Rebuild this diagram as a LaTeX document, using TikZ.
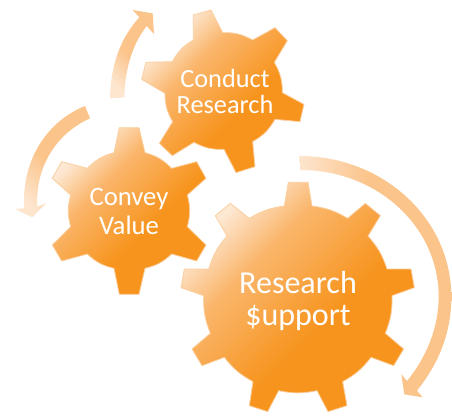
\documentclass[tikz,border=0pt]{standalone}
\usepackage{fontspec}
\setmainfont{Carlito}
\definecolor{gearpale}{HTML}{FDE8D3}
\definecolor{gearmid}{HTML}{FAB66C}
\definecolor{gearorange}{HTML}{F7941E}
\definecolor{gearedge}{HTML}{FBCF9F}
\definecolor{arrowpale}{HTML}{FDE5CE}
\definecolor{arrowdark}{HTML}{FBC48A}
\pgfdeclarehorizontalshading{gearshade}{100bp}{color(0bp)=(gearpale); color(26bp)=(gearpale); color(38bp)=(gearmid); color(58bp)=(gearorange); color(100bp)=(gearorange)}
\pgfdeclarehorizontalshading{arrowshade}{100bp}{color(0bp)=(arrowpale); color(25bp)=(arrowpale); color(48bp)=(arrowdark); color(100bp)=(arrowdark)}
\tikzset{
  gearbody/.style={shading=gearshade, shading angle=-45, draw=gearedge, line width=0.8pt, line join=miter},
  flowarrow/.style={shading=arrowshade, draw=none},
  gearlabel/.style={text=white, align=center, inner sep=0pt},
  zoomA/.style={shift={(100,0)},x=0.33333pt,y=-0.33333pt},
  zoomB/.style={shift={(0,100)},x=0.33333pt,y=-0.33333pt},
  zoomC/.style={shift={(172,150)},x=0.33333pt,y=-0.33333pt}
}
\begin{document}
\begin{tikzpicture}[x=1pt,y=-1pt]
\useasboundingbox (0,0) rectangle (452,415);
% flow arrows
\begin{scope}[zoomA]
\path[flowarrow, shading angle=45] (30,295) .. controls (32,190) and (65,110) .. (118,52) -- (98,30) -- (158,40) -- (162,102) -- (140,78) .. controls (100,130) and (75,200) .. (73,292) -- cycle;
\end{scope}
\begin{scope}[zoomB]
\path[flowarrow, shading angle=45] (255,18) .. controls (140,65) and (65,180) .. (72,325) -- (45,327) -- (97,352) -- (138,310) -- (112,320) .. controls (105,200) and (170,100) .. (270,55) -- cycle;
\end{scope}
\begin{scope}[zoomC]
\path[flowarrow, shading angle=0] (382,18) .. controls (634,18) and (838,207) .. (838,440) .. controls (838,550) and (800,640) .. (735,722) -- (752,742) -- (697,733) -- (688,673) -- (705,693) .. controls (765,620) and (800,530) .. (800,440) .. controls (800,230) and (616,60) .. (385,60) -- cycle;
\end{scope}
% gears
\begin{scope}[zoomA]
\path[gearbody] (280,45) -- (333,30) -- (368,98) to[bend left=15] (458,120) -- (525,83) -- (562,122) -- (523,187) to[bend left=15] (547,278) -- (612,313) -- (600,365) -- (525,358) to[bend left=15] (458,425) -- (465,500) -- (408,518) -- (372,448) to[bend left=15] (282,427) -- (217,467) -- (178,430) -- (218,365) to[bend left=15] (195,280) -- (125,238) -- (138,187) -- (217,185) to[bend left=15] (280,120) -- cycle;
\end{scope}
\begin{scope}[zoomB]
\path[gearbody] (358,83) -- (417,83) -- (435,158) to[bend left=15] (515,205) -- (590,185) -- (618,235) -- (562,285) to[bend left=15] (562,380) -- (618,435) -- (590,483) -- (515,462) to[bend left=15] (435,505) -- (417,583) -- (358,583) -- (342,505) to[bend left=15] (262,462) -- (185,483) -- (157,435) -- (212,380) to[bend left=15] (212,285) -- (157,235) -- (185,185) -- (262,205) to[bend left=15] (342,158) -- cycle;
\end{scope}
\begin{scope}[zoomC]
\path[gearbody] (349,97) -- (408,97) -- (420,168) to[bend left=11.5] (527,205) -- (580,160) -- (625,197) -- (588,258) to[bend left=11.5] (645,357) -- (717,357) -- (727,413) -- (660,437) to[bend left=11.5] (640,550) -- (695,597) -- (665,647) -- (597,622) to[bend left=11.5] (512,695) -- (525,767) -- (468,785) -- (435,722) to[bend left=11.5] (320,722) -- (287,785) -- (232,767) -- (243,695) to[bend left=11.5] (157,622) -- (90,647) -- (60,597) -- (115,550) to[bend left=11.5] (95,437) -- (27,413) -- (37,357) -- (110,357) to[bend left=11.5] (165,258) -- (130,197) -- (175,160) -- (232,205) to[bend left=11.5] (337,168) -- cycle;
\end{scope}
% labels
\node[gearlabel, font=\fontsize{26.3}{26}\selectfont] (conduct) at (225,91) {Conduct\\Research};
\node[gearlabel, font=\fontsize{26.7}{29}\selectfont] (convey) at (129,211) {Convey\\Value};
\node[gearlabel, font=\fontsize{32}{32}\selectfont] (support) at (298,301) {Research\\\$upport};
\end{tikzpicture}
\end{document}
